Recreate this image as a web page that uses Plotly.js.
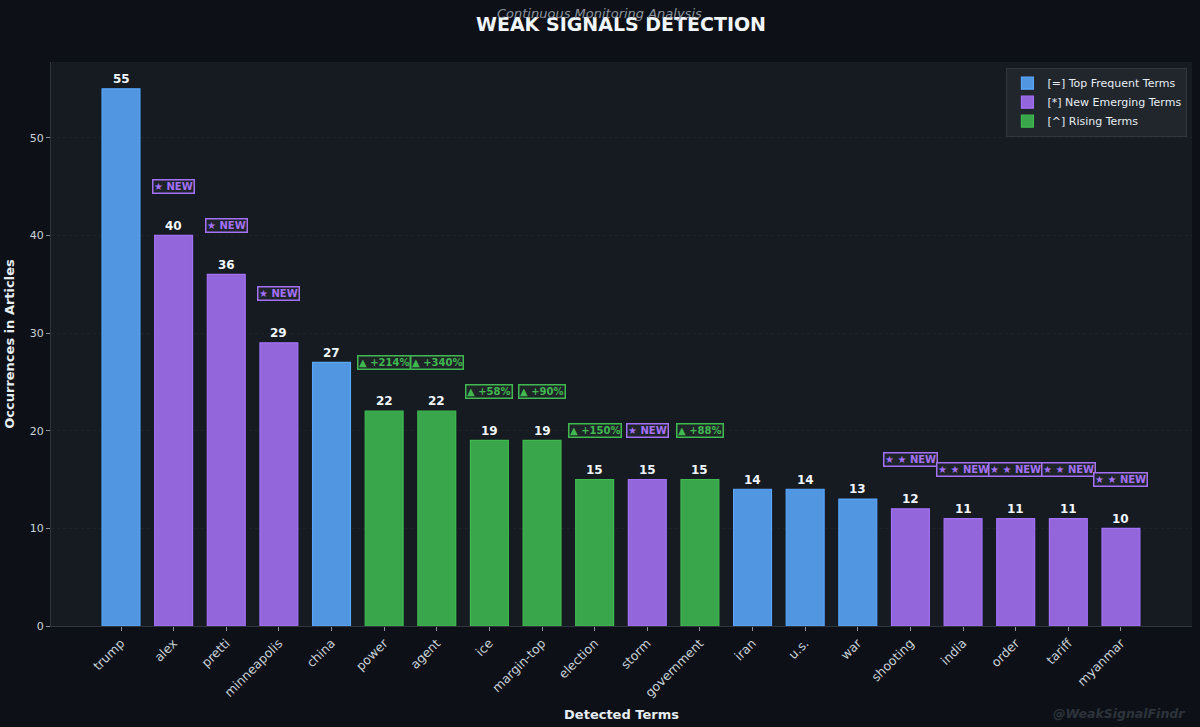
<!DOCTYPE html>
<html>
<head>
<meta charset="utf-8">
<script src="https://cdn.plot.ly/plotly-3.0.1.min.js"></script>
<style>html,body{margin:0;padding:0;background:#0d1117;}#chart{width:1200px;height:727px;}</style>
</head>
<body>
<div id="chart"></div>
<script>
const terms = ["trump","alex","pretti","minneapolis","china","power","agent","ice","margin-top","election","storm","government","iran","u.s.","war","shooting","india","order","tariff","myanmar"];
const counts = [55,40,36,29,27,22,22,19,19,15,15,15,14,14,13,12,11,11,11,10];
const types = ["top","new","new","new","top","rising","rising","rising","rising","rising","new","rising","top","top","top","new","new","new","new","new"];
const badges = ["","★ NEW","★ NEW","★ NEW","","▲ +214%","▲ +340%","▲ +58%","▲ +90%","▲ +150%","★ NEW","▲ +88%","","","","★ ★ NEW","★ ★ NEW","★ ★ NEW","★ ★ NEW","★ ★ NEW"];
const seriesNames = {top:"[=] Top Frequent Terms", new:"[*] New Emerging Terms", rising:"[^] Rising Terms"};
const seriesColors = {top:"#58a6ff", new:"#a371f7", rising:"#3fb950"};
const fillColors = {top:"#5096e0", new:"#9366db", rising:"#39a64b"};

const font = "DejaVu Sans, sans-serif";
const traces = ["top","new","rising"].map(t => {
  const xs = [], ys = [];
  terms.forEach((term,i) => { if (types[i] === t) { xs.push(term); ys.push(counts[i]); } });
  return {
    type: "bar", x: xs, y: ys, name: seriesNames[t], width: 0.72,
    marker: {color: fillColors[t], line: {color: seriesColors[t], width: 1.2}},
    hoverinfo: "x+y"
  };
});

const annotations = [];
terms.forEach((term,i) => {
  annotations.push({x: term, y: counts[i] + 1, text: "<b>" + counts[i] + "</b>", showarrow: false,
    font: {family: font, size: 12, color: "#f0f6fc"}, yanchor: "middle"});
  if (badges[i]) {
    const c = types[i] === "rising" ? seriesColors.rising : seriesColors.new;
    annotations.push({x: term, y: counts[i] + 5, text: "<b>" + badges[i] + "</b>", showarrow: false,
      font: {family: font, size: 10, color: c}, bgcolor: "#1f2428", bordercolor: c, borderwidth: 1.5,
      borderpad: 0.5, yanchor: "middle"});
  }
});
annotations.push({xref: "paper", yref: "paper", x: 0.4805, y: 1, yshift: 49, text: "<i>Continuous Monitoring Analysis</i>",
  showarrow: false, font: {family: font, size: 13, color: "#8b949e"}, xanchor: "center", yanchor: "middle"});
annotations.push({xref: "paper", yref: "paper", x: 0.9956, y: 0, yshift: -87, text: "<b><i>@WeakSignalFindr</i></b>",
  showarrow: false, font: {family: font, size: 12.5, color: "#2d333b"}, xanchor: "right", yanchor: "middle"});

const layout = {
  width: 1200, height: 727,
  paper_bgcolor: "#0d1117", plot_bgcolor: "#161b22",
  margin: {l: 51, r: 8, t: 62, b: 101},
  barmode: "overlay",
  title: {text: "<b>WEAK SIGNALS DETECTION</b>", x: 0.5175, xanchor: "center", y: 0.967, yanchor: "middle",
    font: {family: font, size: 19, color: "#f0f6fc"}},
  xaxis: {type: "category", categoryorder: "array", categoryarray: terms, range: [-1.33, 20.35],
    tickangle: -45, tickfont: {family: font, size: 12.5, color: "#c9d1d9"},
    ticks: "outside", ticklen: 4, tickcolor: "#8b949e", showgrid: false, zeroline: false,
    showline: true, linecolor: "#30363d", linewidth: 1,
    title: {text: "<b>Detected Terms</b>", font: {family: font, size: 13, color: "#e6edf3"}, standoff: 10}},
  yaxis: {range: [0, 57.75], dtick: 10, tickfont: {family: font, size: 11, color: "#c9d1d9"},
    ticks: "outside", ticklen: 4, tickcolor: "#8b949e",
    showgrid: true, gridcolor: "rgba(48,54,61,0.3)", griddash: "dot", zeroline: false,
    showline: true, linecolor: "#30363d", linewidth: 1,
    title: {text: "<b>Occurrences in Articles</b>", font: {family: font, size: 13, color: "#e6edf3"}, standoff: 12}},
  legend: {x: 0.996, y: 0.99, xanchor: "right", yanchor: "top", bgcolor: "#21262d", bordercolor: "#30363d",
    borderwidth: 1, font: {family: font, size: 11, color: "#e6edf3"}, tracegroupgap: 0, itemwidth: 30},
  annotations: annotations,
  showlegend: true
};

Plotly.newPlot("chart", traces, layout, {displayModeBar: false, staticPlot: true});
</script>
</body>
</html>
